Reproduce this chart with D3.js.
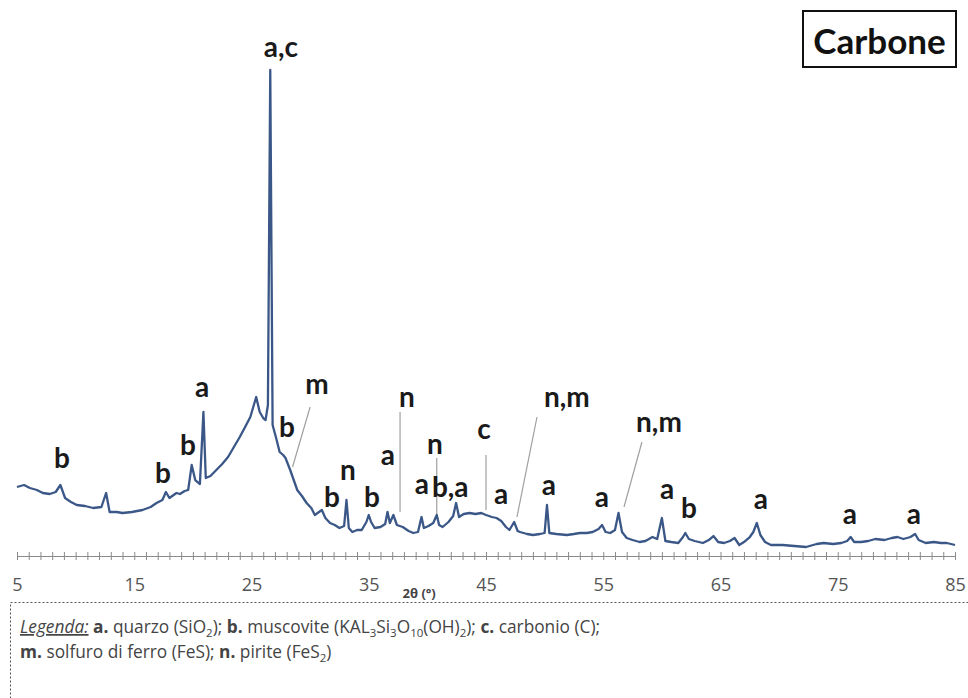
<!DOCTYPE html>
<html><head><meta charset="utf-8">
<script src="https://cdn.jsdelivr.net/npm/d3@7/dist/d3.min.js"></script>
<style>body{margin:0;background:#fff}svg{display:block}</style>
</head><body>
<svg id="c" width="968" height="698"></svg>
<script>
// ---- data (2θ in degrees, intensity in arbitrary units) ----
const twoTheta = [5.0,5.6,6.1,6.7,7.2,7.8,8.3,8.7,9.1,9.6,10.1,10.8,11.5,12.2,12.6,12.9,13.5,14.0,14.8,15.7,16.4,16.9,17.4,17.7,18.0,18.6,18.9,19.3,19.6,19.9,20.2,20.6,20.9,21.1,21.5,22.0,22.5,23.0,23.5,24.0,24.5,24.9,25.2,25.4,25.7,26.0,26.2,26.4,26.6,26.8,27.1,27.4,27.7,27.9,28.3,28.9,29.3,29.7,30.1,30.4,31.0,31.3,31.7,32.1,32.5,32.9,33.1,33.3,33.6,34.0,34.4,34.8,35.0,35.2,35.5,36.0,36.4,36.6,36.8,37.1,37.4,37.9,38.4,38.8,39.2,39.5,39.7,40.1,40.5,40.8,41.0,41.3,41.8,42.2,42.45,42.7,43.1,43.6,44.1,44.6,45.0,45.5,45.9,46.3,46.7,47.0,47.4,47.7,47.9,48.5,49.0,49.6,50.0,50.2,50.4,51.0,51.9,52.5,53.0,53.6,54.1,54.6,54.9,55.2,55.6,56.0,56.3,56.6,57.0,57.5,58.1,58.6,59.2,59.6,60.0,60.3,60.8,61.4,61.8,62.0,62.3,62.8,63.5,64.0,64.4,64.8,65.3,65.8,66.2,66.6,67.0,67.5,67.8,68.1,68.4,68.8,69.3,70.3,71.3,72.3,73.2,73.8,74.6,75.3,75.8,76.1,76.4,77.0,77.6,78.2,79.0,79.6,80.1,80.6,81.2,81.6,81.9,82.5,83.2,83.8,84.3,85.0];
const intensity = [69,71,68,66,63,62,64,71,58,54,51,50,48,49,63,44,44,43,44,46,49,53,56,64,58,63,62,65,66,91,76,72,144,78,80,86,92,99,109,119,130,139,151,159,144,138,136,151,486,131,118,104,101,98,86,66,60,53,48,41,46,38,33,31,28,30,56,28,24,26,26,34,41,34,28,29,32,44,33,41,31,29,25,23,24,39,28,30,33,41,31,29,34,40,53,39,42,43,42,43,41,39,38,35,29,26,34,25,24,22,21,22,23,51,23,22,21,22,23,23,24,27,31,24,23,26,43,24,18,16,14,15,19,17,38,15,14,13,19,23,17,15,13,16,20,14,13,15,18,11,14,19,24,33,21,14,11,11,10,9,12,13,12,13,15,19,14,14,15,17,16,18,19,17,19,22,16,13,14,13,13,11];

const xTickValues = [5,15,25,35,45,55,65,75,85];

// peak annotations (label, 2θ, intensity at label baseline)
const peakLabels = ["a,c","a","m","b","n","b","b","b","n","b","a","b","n","a","b,a","c","a","n,m","a","a","n,m","a","b","a","a","a"];
const peakLabelTheta = [27.5,20.78,30.59,28.03,38.26,8.84,17.45,19.58,33.23,31.87,36.64,35.28,40.65,39.54,41.95,44.83,46.28,51.9,50.37,54.89,59.75,60.44,62.31,68.45,76.04,81.5];
const peakLabelInt = [499,159,162,119,149,88,73,101,76,49,91,49,102,62,59,117,52,149,61,49,124,57,38,47,32,32];

// leader lines from labels to peaks
const leaderTheta1 = [30.0,37.67,40.8,45.0,49.35,58.3];
const leaderInt1   = [149,144,98,101,139,114];
const leaderTheta2 = [28.5,37.67,40.8,45.0,47.64,56.77];
const leaderInt2   = [89,44,38,46,39,49];

const titleText = "Carbone";
const axisTitle = "2θ (°)";

// ---- drawing ----
const svg = d3.select("#c");
const x = d3.scaleLinear().domain([5,85]).range([17,955]);
const y = d3.scaleLinear().domain([0,500]).range([556,56]);

// minor tick axis (crossing ticks)
const minor = svg.append("g").attr("transform","translate(0,556)")
  .call(d3.axisBottom(x).tickValues(d3.range(5,86,1)).tickSizeInner(4).tickSizeOuter(0).tickFormat(""));
minor.select(".domain").attr("stroke","#8a8a8a").attr("stroke-width",1.2);
minor.selectAll(".tick line").attr("y1",-4).attr("y2",4).attr("stroke","#8a8a8a").attr("stroke-width",1);

// major labels
const major = svg.append("g").attr("transform","translate(0,556)")
  .call(d3.axisBottom(x).tickValues(xTickValues).tickSize(0).tickPadding(22).tickFormat(d3.format("d")));
major.select(".domain").remove();
major.selectAll("text").attr("font-family","Open Sans, sans-serif").attr("font-size",18).attr("fill","#555");

svg.append("text").attr("x",x(39.3)).attr("y",598).attr("text-anchor","middle")
  .attr("font-family","Open Sans, sans-serif").attr("font-weight","bold").attr("font-size",13).attr("fill","#444")
  .text(axisTitle);

// leader lines
svg.append("g").selectAll("line").data(leaderTheta1).join("line")
  .attr("x1",(d,i)=>x(d)).attr("y1",(d,i)=>y(leaderInt1[i]))
  .attr("x2",(d,i)=>x(leaderTheta2[i])).attr("y2",(d,i)=>y(leaderInt2[i]))
  .attr("stroke","#a0a0a0").attr("stroke-width",1.2);

// spectrum
const pts = twoTheta.map((t,i)=>[t,intensity[i]]);
svg.append("path").datum(pts)
  .attr("d",d3.line().x(d=>x(d[0])).y(d=>y(d[1])))
  .attr("fill","none").attr("stroke","#3a5787").attr("stroke-width",2.3).attr("stroke-linejoin","round");

// peak labels
svg.append("g").selectAll("text").data(peakLabels).join("text")
  .attr("x",(d,i)=>x(peakLabelTheta[i])).attr("y",(d,i)=>y(peakLabelInt[i]))
  .attr("text-anchor","middle").attr("font-family","Lato, sans-serif").attr("font-weight","bold")
  .attr("font-size",28).attr("fill","#1a1a1a").text(d=>d);

// title box
svg.append("rect").attr("x",803).attr("y",11).attr("width",153).attr("height",56)
  .attr("fill","#fff").attr("stroke","#111").attr("stroke-width",2);
svg.append("text").attr("x",879.5).attr("y",54).attr("text-anchor","middle")
  .attr("font-family","Lato, sans-serif").attr("font-weight","bold").attr("font-size",35).attr("fill","#111")
  .text(titleText);

// legend box
svg.append("rect").attr("x",10.5).attr("y",602.5).attr("width",980).attr("height",120)
  .attr("fill","none").attr("stroke","#555").attr("stroke-width",1).attr("stroke-dasharray","2,2");

const lg = svg.append("g").attr("font-family","Open Sans, sans-serif").attr("font-size",17.3).attr("fill","#444");
function line(yPos, parts){
  const t = lg.append("text").attr("x",20).attr("y",yPos);
  parts.forEach(p=>{
    const s = t.append("tspan").text(p.t);
    if(p.b) s.attr("font-weight","bold");
    if(p.i) s.attr("font-style","italic");
    if(p.u) s.attr("text-decoration","underline");
    if(p.sub){ s.attr("font-size",11.5).attr("dy",4); }
    if(p.up){ s.attr("dy",-4); }
  });
}
line(633,[{t:"Legenda:",i:1,u:1},{t:" "},{t:"a.",b:1},{t:" quarzo (SiO"},{t:"2",sub:1},{t:"); ",up:1},{t:"b.",b:1},
  {t:" muscovite (KAL"},{t:"3",sub:1},{t:"Si",up:1},{t:"3",sub:1},{t:"O",up:1},{t:"10",sub:1},{t:"(OH)",up:1},{t:"2",sub:1},{t:");  ",up:1},
  {t:"c.",b:1},{t:" carbonio (C);"}]);
line(658,[{t:"m.",b:1},{t:" solfuro di ferro (FeS); "},{t:"n.",b:1},{t:" pirite (FeS"},{t:"2",sub:1},{t:")",up:1}]);
</script>
</body></html>
